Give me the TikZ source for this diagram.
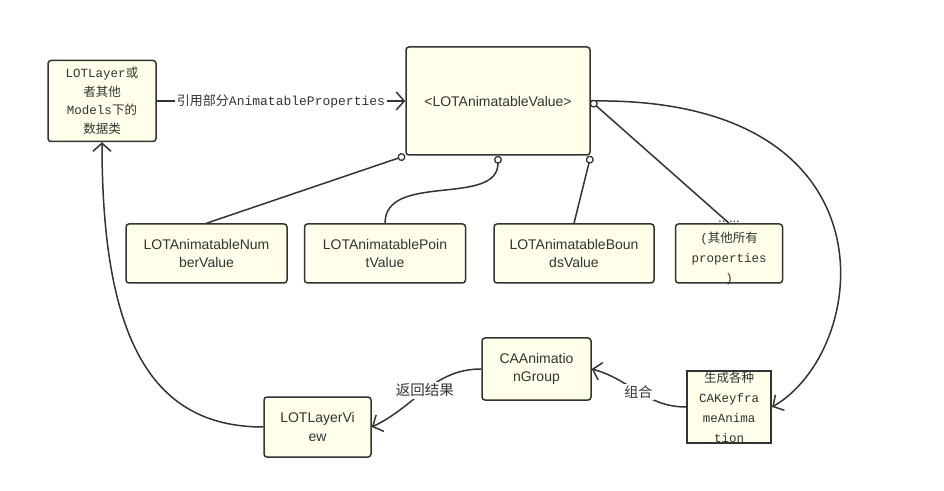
\documentclass[tikz,border=0pt]{standalone}
\usepackage{fontspec}
\setmainfont{Liberation Sans}
\setmonofont{Liberation Mono}
\newfontfamily\cjk{Noto Sans CJK SC}
\usetikzlibrary{arrows.meta, positioning}
\definecolor{inkcolor}{HTML}{333333}
\definecolor{notefill}{HTML}{FFFFEA}
\newcommand{\zh}[1]{{\cjk #1}}

\begin{document}
\begin{tikzpicture}[
  x=1pt, y=1pt, line width=1.5pt, color=inkcolor,
  >={Straight Barb[length=8pt, width=18pt]},
]

\tikzset{
  classbox/.style={rectangle, rounded corners=3pt, draw=inkcolor, fill=notefill,
    align=center, inner sep=0pt, text=inkcolor,
    font=\fontsize{14}{18.5}\selectfont},
  monobox/.style={classbox, font=\ttfamily\fontsize{12.5}{18.5}\selectfont},
  monotext/.style={align=center, inner sep=0pt, text=inkcolor,
    font=\ttfamily\fontsize{12.5}{20}\selectfont},
  flowline/.style={->, inkcolor},
  ownline/.style={{Circle[length=8pt, width=8pt, line width=1.3pt, fill=white]}-, inkcolor},
  edgelabel/.style={fill=white, inner sep=1.5pt, text=inkcolor},
}

\useasboundingbox (0,0) rectangle (944,490);

% ---- top: data class and the value class ----
\node[monobox, minimum width=108, minimum height=81] (layer) at (102,389)
  {LOTLayer\zh{或}\\\zh{者其他}\\Models\zh{下的}\\\zh{数据类}};
\node[classbox, minimum width=184, minimum height=108] (val) at (498,389)
  {<LOTAnimatableValue>};

% ---- middle row: concrete values ----
\node[classbox, minimum width=161, minimum height=59] (num) at (206.5,236.5)
  {LOTAnimatableNum\\berValue};
\node[classbox, minimum width=161, minimum height=59, right=16 of num] (pnt)
  {LOTAnimatablePoin\\tValue};
\node[classbox, minimum width=160, minimum height=59, right=27 of pnt] (bnd)
  {LOTAnimatableBoun\\dsValue};
\node[classbox, minimum width=107, minimum height=59, right=20 of bnd,
  label={[monotext]center:{{\rmfamily\fontsize{13}{20}\selectfont ......}\\(\zh{其他所有}\\properties\\)}}] (oth) {};

% ---- bottom: animations and the view ----
\node[classbox, minimum width=109, minimum height=62] (grp) at (536.5,121)
  {CAAnimatio\\nGroup};
\node[classbox, rounded corners=0pt, line width=2.2pt, minimum width=84, minimum height=72,
  label={[monotext]center:{\zh{生成各种}\\CAKeyfra\\meAnima\\tion}}] (kf) at (729,83) {};
\node[classbox, minimum width=107, minimum height=60] (view) at (317.5,63)
  {LOTLayerVi\\ew};

\draw[flowline] (layer) -- node[edgelabel]
  {\fontsize{13}{15}\selectfont\zh{引用部分}\ttfamily AnimatableProperties} (val);
\draw[flowline] (val.east) .. controls +(310,5) and +(99,57) .. (kf.east);

\draw[ownline] (val.south west) -- (num.north);
\draw[ownline] (val.south) to[out=-90, in=90] (pnt.north);
\draw[ownline] (val.south east) -- (bnd.north);
\draw[ownline] (val.east) -- (oth.north);

\draw[flowline] (kf.west) to[out=180, in=-15]
  node[edgelabel, font=\fontsize{14}{16}\selectfont] {\zh{组合}} (grp.east);
\draw[flowline] (grp.west) to[out=180, in=25]
  node[edgelabel, font=\fontsize{14.5}{16}\selectfont] {\zh{返回结果}} (view.east);
\draw[flowline] (view.west) .. controls +(-110,0) and +(0,-200) .. (layer.south);

\end{tikzpicture}
\end{document}
